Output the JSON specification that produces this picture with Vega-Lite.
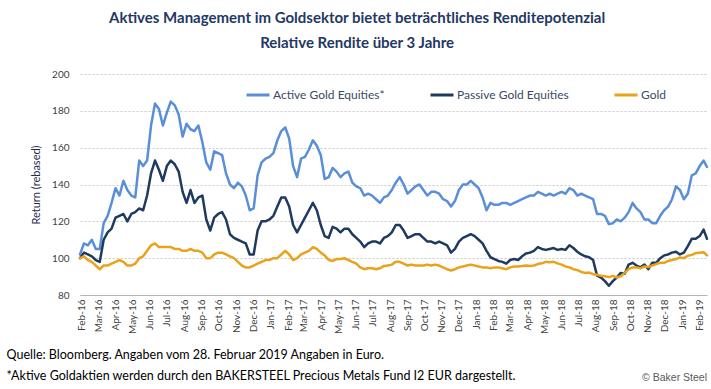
{
"$schema": "https://vega.github.io/schema/vega-lite/v6.json",
"background": "white",
"padding": {"left": 6, "top": 11, "right": 4, "bottom": 0},
"title": {"text": ["Aktives Management im Goldsektor bietet beträchtliches Renditepotenzial", "Relative Rendite über 3 Jahre"], "font": "Lato", "fontSize": 15, "fontWeight": "bold", "color": "#1F3864", "lineHeight": 25, "anchor": "middle", "offset": 18},
"config": {"view": {"stroke": null}, "concat": {"spacing": 0}},
"vconcat": [{
"width": 627, "height": 221,
"title": {"text": "© Baker Steel", "orient": "bottom", "anchor": "end", "frame": "group", "font": "Liberation Sans", "fontSize": 10.5, "fontWeight": "normal", "color": "#595959", "offset": -9},
"data": {"values": [
{"date":"2016-01-29","series":"Active","value":102},{"date":"2016-02-05","series":"Active","value":108},{"date":"2016-02-12","series":"Active","value":107},{"date":"2016-02-19","series":"Active","value":110},{"date":"2016-02-26","series":"Active","value":105},{"date":"2016-03-04","series":"Active","value":105},{"date":"2016-03-11","series":"Active","value":119},{"date":"2016-03-18","series":"Active","value":123},{"date":"2016-03-25","series":"Active","value":130},{"date":"2016-04-01","series":"Active","value":138},
{"date":"2016-04-08","series":"Active","value":134},{"date":"2016-04-15","series":"Active","value":142},{"date":"2016-04-22","series":"Active","value":137},{"date":"2016-04-29","series":"Active","value":134},{"date":"2016-05-06","series":"Active","value":133},{"date":"2016-05-13","series":"Active","value":153},{"date":"2016-05-20","series":"Active","value":150},{"date":"2016-05-27","series":"Active","value":153},{"date":"2016-06-03","series":"Active","value":172},{"date":"2016-06-10","series":"Active","value":184},
{"date":"2016-06-17","series":"Active","value":181},{"date":"2016-06-24","series":"Active","value":172},{"date":"2016-07-01","series":"Active","value":179},{"date":"2016-07-08","series":"Active","value":185},{"date":"2016-07-15","series":"Active","value":183},{"date":"2016-07-22","series":"Active","value":178},{"date":"2016-07-29","series":"Active","value":166},{"date":"2016-08-05","series":"Active","value":173},{"date":"2016-08-12","series":"Active","value":170},{"date":"2016-08-19","series":"Active","value":169},
{"date":"2016-08-26","series":"Active","value":172},{"date":"2016-09-02","series":"Active","value":163},{"date":"2016-09-09","series":"Active","value":152},{"date":"2016-09-16","series":"Active","value":148},{"date":"2016-09-23","series":"Active","value":158},{"date":"2016-09-30","series":"Active","value":157},{"date":"2016-10-07","series":"Active","value":156},{"date":"2016-10-14","series":"Active","value":146},{"date":"2016-10-21","series":"Active","value":140},{"date":"2016-10-28","series":"Active","value":138},
{"date":"2016-11-04","series":"Active","value":141},{"date":"2016-11-11","series":"Active","value":139},{"date":"2016-11-18","series":"Active","value":134},{"date":"2016-11-25","series":"Active","value":126},{"date":"2016-12-02","series":"Active","value":127},{"date":"2016-12-09","series":"Active","value":145},{"date":"2016-12-16","series":"Active","value":152},{"date":"2016-12-23","series":"Active","value":154},{"date":"2016-12-30","series":"Active","value":155},{"date":"2017-01-06","series":"Active","value":157},
{"date":"2017-01-13","series":"Active","value":164},{"date":"2017-01-20","series":"Active","value":169},{"date":"2017-01-27","series":"Active","value":171},{"date":"2017-02-03","series":"Active","value":165},{"date":"2017-02-10","series":"Active","value":150},{"date":"2017-02-17","series":"Active","value":144},{"date":"2017-02-24","series":"Active","value":154},{"date":"2017-03-03","series":"Active","value":155},{"date":"2017-03-10","series":"Active","value":159},{"date":"2017-03-17","series":"Active","value":164},
{"date":"2017-03-24","series":"Active","value":161},{"date":"2017-03-31","series":"Active","value":156},{"date":"2017-04-07","series":"Active","value":143},{"date":"2017-04-14","series":"Active","value":144},{"date":"2017-04-21","series":"Active","value":149},{"date":"2017-04-28","series":"Active","value":147},{"date":"2017-05-05","series":"Active","value":144},{"date":"2017-05-12","series":"Active","value":146},{"date":"2017-05-19","series":"Active","value":147},{"date":"2017-05-26","series":"Active","value":141},
{"date":"2017-06-02","series":"Active","value":139},{"date":"2017-06-09","series":"Active","value":138},{"date":"2017-06-16","series":"Active","value":134},{"date":"2017-06-23","series":"Active","value":135},{"date":"2017-06-30","series":"Active","value":134},{"date":"2017-07-07","series":"Active","value":132},{"date":"2017-07-14","series":"Active","value":130},{"date":"2017-07-21","series":"Active","value":133},{"date":"2017-07-28","series":"Active","value":134},{"date":"2017-08-04","series":"Active","value":137},
{"date":"2017-08-11","series":"Active","value":141},{"date":"2017-08-18","series":"Active","value":144},{"date":"2017-08-25","series":"Active","value":140},{"date":"2017-09-01","series":"Active","value":135},{"date":"2017-09-08","series":"Active","value":137},{"date":"2017-09-15","series":"Active","value":139},{"date":"2017-09-22","series":"Active","value":140},{"date":"2017-09-29","series":"Active","value":137},{"date":"2017-10-06","series":"Active","value":134},{"date":"2017-10-13","series":"Active","value":136},
{"date":"2017-10-20","series":"Active","value":136},{"date":"2017-10-27","series":"Active","value":135},{"date":"2017-11-03","series":"Active","value":132},{"date":"2017-11-10","series":"Active","value":131},{"date":"2017-11-17","series":"Active","value":128},{"date":"2017-11-24","series":"Active","value":131},{"date":"2017-12-01","series":"Active","value":137},{"date":"2017-12-08","series":"Active","value":140},{"date":"2017-12-15","series":"Active","value":140},{"date":"2017-12-22","series":"Active","value":142},
{"date":"2017-12-29","series":"Active","value":140},{"date":"2018-01-05","series":"Active","value":138},{"date":"2018-01-12","series":"Active","value":133},{"date":"2018-01-19","series":"Active","value":126},{"date":"2018-01-26","series":"Active","value":130},{"date":"2018-02-02","series":"Active","value":129},{"date":"2018-02-09","series":"Active","value":129},{"date":"2018-02-16","series":"Active","value":130},{"date":"2018-02-23","series":"Active","value":130},{"date":"2018-03-02","series":"Active","value":129},
{"date":"2018-03-09","series":"Active","value":130},{"date":"2018-03-16","series":"Active","value":131},{"date":"2018-03-23","series":"Active","value":132},{"date":"2018-03-30","series":"Active","value":133},{"date":"2018-04-06","series":"Active","value":134},{"date":"2018-04-13","series":"Active","value":134},{"date":"2018-04-20","series":"Active","value":136},{"date":"2018-04-27","series":"Active","value":135},{"date":"2018-05-04","series":"Active","value":134},{"date":"2018-05-11","series":"Active","value":135},
{"date":"2018-05-18","series":"Active","value":134},{"date":"2018-05-25","series":"Active","value":135},{"date":"2018-06-01","series":"Active","value":136},{"date":"2018-06-08","series":"Active","value":135},{"date":"2018-06-15","series":"Active","value":138},{"date":"2018-06-22","series":"Active","value":137},{"date":"2018-06-29","series":"Active","value":134},{"date":"2018-07-06","series":"Active","value":135},{"date":"2018-07-13","series":"Active","value":134},{"date":"2018-07-20","series":"Active","value":133},
{"date":"2018-07-27","series":"Active","value":132},{"date":"2018-08-03","series":"Active","value":124},{"date":"2018-08-10","series":"Active","value":124},{"date":"2018-08-17","series":"Active","value":123},{"date":"2018-08-24","series":"Active","value":118.5},{"date":"2018-08-31","series":"Active","value":119},{"date":"2018-09-07","series":"Active","value":121},{"date":"2018-09-14","series":"Active","value":120},{"date":"2018-09-21","series":"Active","value":122},{"date":"2018-09-28","series":"Active","value":125},
{"date":"2018-10-05","series":"Active","value":130},{"date":"2018-10-12","series":"Active","value":127},{"date":"2018-10-19","series":"Active","value":125},{"date":"2018-10-26","series":"Active","value":121},{"date":"2018-11-02","series":"Active","value":121},{"date":"2018-11-09","series":"Active","value":119},{"date":"2018-11-16","series":"Active","value":119},{"date":"2018-11-23","series":"Active","value":123},{"date":"2018-11-30","series":"Active","value":126},{"date":"2018-12-07","series":"Active","value":128},
{"date":"2018-12-14","series":"Active","value":132},{"date":"2018-12-21","series":"Active","value":139},{"date":"2018-12-28","series":"Active","value":137},{"date":"2019-01-04","series":"Active","value":132},{"date":"2019-01-11","series":"Active","value":135},{"date":"2019-01-18","series":"Active","value":145},{"date":"2019-01-25","series":"Active","value":146},{"date":"2019-02-01","series":"Active","value":150},{"date":"2019-02-08","series":"Active","value":153},{"date":"2019-02-14","series":"Active","value":149.5},

{"date":"2016-01-29","series":"Passive","value":100},{"date":"2016-02-05","series":"Passive","value":103},{"date":"2016-02-12","series":"Passive","value":102},{"date":"2016-02-19","series":"Passive","value":101},{"date":"2016-02-26","series":"Passive","value":99},{"date":"2016-03-04","series":"Passive","value":98},{"date":"2016-03-11","series":"Passive","value":110},{"date":"2016-03-18","series":"Passive","value":114},{"date":"2016-03-25","series":"Passive","value":116},{"date":"2016-04-01","series":"Passive","value":122},
{"date":"2016-04-08","series":"Passive","value":123},{"date":"2016-04-15","series":"Passive","value":124},{"date":"2016-04-22","series":"Passive","value":120},{"date":"2016-04-29","series":"Passive","value":124},{"date":"2016-05-06","series":"Passive","value":125},{"date":"2016-05-13","series":"Passive","value":127},{"date":"2016-05-20","series":"Passive","value":126},{"date":"2016-05-27","series":"Passive","value":134},{"date":"2016-06-03","series":"Passive","value":146},{"date":"2016-06-10","series":"Passive","value":153},
{"date":"2016-06-17","series":"Passive","value":148},{"date":"2016-06-24","series":"Passive","value":142},{"date":"2016-07-01","series":"Passive","value":150},{"date":"2016-07-08","series":"Passive","value":153},{"date":"2016-07-15","series":"Passive","value":151},{"date":"2016-07-22","series":"Passive","value":147},{"date":"2016-07-29","series":"Passive","value":136},{"date":"2016-08-05","series":"Passive","value":130},{"date":"2016-08-12","series":"Passive","value":137},{"date":"2016-08-19","series":"Passive","value":130},
{"date":"2016-08-26","series":"Passive","value":133},{"date":"2016-09-02","series":"Passive","value":134},{"date":"2016-09-09","series":"Passive","value":121},{"date":"2016-09-16","series":"Passive","value":115},{"date":"2016-09-23","series":"Passive","value":122},{"date":"2016-09-30","series":"Passive","value":124},{"date":"2016-10-07","series":"Passive","value":125},{"date":"2016-10-14","series":"Passive","value":121},{"date":"2016-10-21","series":"Passive","value":113},{"date":"2016-10-28","series":"Passive","value":111},
{"date":"2016-11-04","series":"Passive","value":110},{"date":"2016-11-11","series":"Passive","value":109},{"date":"2016-11-18","series":"Passive","value":108},{"date":"2016-11-25","series":"Passive","value":102},{"date":"2016-12-02","series":"Passive","value":102},{"date":"2016-12-09","series":"Passive","value":115},{"date":"2016-12-16","series":"Passive","value":120},{"date":"2016-12-23","series":"Passive","value":120},{"date":"2016-12-30","series":"Passive","value":121},{"date":"2017-01-06","series":"Passive","value":123},
{"date":"2017-01-13","series":"Passive","value":128},{"date":"2017-01-20","series":"Passive","value":133},{"date":"2017-01-27","series":"Passive","value":133},{"date":"2017-02-03","series":"Passive","value":128},{"date":"2017-02-10","series":"Passive","value":118},{"date":"2017-02-17","series":"Passive","value":114},{"date":"2017-02-24","series":"Passive","value":118},{"date":"2017-03-03","series":"Passive","value":122},{"date":"2017-03-10","series":"Passive","value":126},{"date":"2017-03-17","series":"Passive","value":130},
{"date":"2017-03-24","series":"Passive","value":126},{"date":"2017-03-31","series":"Passive","value":118},{"date":"2017-04-07","series":"Passive","value":112},{"date":"2017-04-14","series":"Passive","value":111},{"date":"2017-04-21","series":"Passive","value":117},{"date":"2017-04-28","series":"Passive","value":116},{"date":"2017-05-05","series":"Passive","value":114},{"date":"2017-05-12","series":"Passive","value":116},{"date":"2017-05-19","series":"Passive","value":116},{"date":"2017-05-26","series":"Passive","value":113},
{"date":"2017-06-02","series":"Passive","value":111},{"date":"2017-06-09","series":"Passive","value":109},{"date":"2017-06-16","series":"Passive","value":106},{"date":"2017-06-23","series":"Passive","value":108},{"date":"2017-06-30","series":"Passive","value":109},{"date":"2017-07-07","series":"Passive","value":109},{"date":"2017-07-14","series":"Passive","value":108},{"date":"2017-07-21","series":"Passive","value":111},{"date":"2017-07-28","series":"Passive","value":112},{"date":"2017-08-04","series":"Passive","value":114},
{"date":"2017-08-11","series":"Passive","value":118},{"date":"2017-08-18","series":"Passive","value":118},{"date":"2017-08-25","series":"Passive","value":115},{"date":"2017-09-01","series":"Passive","value":111},{"date":"2017-09-08","series":"Passive","value":112},{"date":"2017-09-15","series":"Passive","value":113},{"date":"2017-09-22","series":"Passive","value":113},{"date":"2017-09-29","series":"Passive","value":111},{"date":"2017-10-06","series":"Passive","value":109},{"date":"2017-10-13","series":"Passive","value":109},
{"date":"2017-10-20","series":"Passive","value":108},{"date":"2017-10-27","series":"Passive","value":109},{"date":"2017-11-03","series":"Passive","value":108},{"date":"2017-11-10","series":"Passive","value":107},{"date":"2017-11-17","series":"Passive","value":103},{"date":"2017-11-24","series":"Passive","value":105},{"date":"2017-12-01","series":"Passive","value":109},{"date":"2017-12-08","series":"Passive","value":111},{"date":"2017-12-15","series":"Passive","value":112},{"date":"2017-12-22","series":"Passive","value":113},
{"date":"2017-12-29","series":"Passive","value":112},{"date":"2018-01-05","series":"Passive","value":110},{"date":"2018-01-12","series":"Passive","value":108},{"date":"2018-01-19","series":"Passive","value":104},{"date":"2018-01-26","series":"Passive","value":100.5},{"date":"2018-02-02","series":"Passive","value":99.5},{"date":"2018-02-09","series":"Passive","value":98.5},{"date":"2018-02-16","series":"Passive","value":98},{"date":"2018-02-23","series":"Passive","value":97},{"date":"2018-03-02","series":"Passive","value":99},
{"date":"2018-03-09","series":"Passive","value":99.5},{"date":"2018-03-16","series":"Passive","value":99},{"date":"2018-03-23","series":"Passive","value":101},{"date":"2018-03-30","series":"Passive","value":102.5},{"date":"2018-04-06","series":"Passive","value":103},{"date":"2018-04-13","series":"Passive","value":104},{"date":"2018-04-20","series":"Passive","value":106},{"date":"2018-04-27","series":"Passive","value":105},{"date":"2018-05-04","series":"Passive","value":104.5},{"date":"2018-05-11","series":"Passive","value":105},
{"date":"2018-05-18","series":"Passive","value":105.5},{"date":"2018-05-25","series":"Passive","value":104.5},{"date":"2018-06-01","series":"Passive","value":105},{"date":"2018-06-08","series":"Passive","value":104.5},{"date":"2018-06-15","series":"Passive","value":107},{"date":"2018-06-22","series":"Passive","value":105.5},{"date":"2018-06-29","series":"Passive","value":103.5},{"date":"2018-07-06","series":"Passive","value":102},{"date":"2018-07-13","series":"Passive","value":101},{"date":"2018-07-20","series":"Passive","value":100.5},
{"date":"2018-07-27","series":"Passive","value":99},{"date":"2018-08-03","series":"Passive","value":90.5},{"date":"2018-08-10","series":"Passive","value":89.5},{"date":"2018-08-17","series":"Passive","value":87.5},{"date":"2018-08-24","series":"Passive","value":85},{"date":"2018-08-31","series":"Passive","value":87.5},{"date":"2018-09-07","series":"Passive","value":89.5},{"date":"2018-09-14","series":"Passive","value":92},{"date":"2018-09-21","series":"Passive","value":91.5},{"date":"2018-09-28","series":"Passive","value":96.5},
{"date":"2018-10-05","series":"Passive","value":97.5},{"date":"2018-10-12","series":"Passive","value":96},{"date":"2018-10-19","series":"Passive","value":95},{"date":"2018-10-26","series":"Passive","value":96.5},{"date":"2018-11-02","series":"Passive","value":94},{"date":"2018-11-09","series":"Passive","value":97.5},{"date":"2018-11-16","series":"Passive","value":97.5},{"date":"2018-11-23","series":"Passive","value":100},{"date":"2018-11-30","series":"Passive","value":101.5},{"date":"2018-12-07","series":"Passive","value":102},
{"date":"2018-12-14","series":"Passive","value":103},{"date":"2018-12-21","series":"Passive","value":103.5},{"date":"2018-12-28","series":"Passive","value":102},{"date":"2019-01-04","series":"Passive","value":103},{"date":"2019-01-11","series":"Passive","value":106.5},{"date":"2019-01-18","series":"Passive","value":110.5},{"date":"2019-01-25","series":"Passive","value":110.5},{"date":"2019-02-01","series":"Passive","value":112},{"date":"2019-02-08","series":"Passive","value":115.5},{"date":"2019-02-14","series":"Passive","value":110.5},

{"date":"2016-01-29","series":"Gold","value":100},{"date":"2016-02-05","series":"Gold","value":101},{"date":"2016-02-12","series":"Gold","value":99},{"date":"2016-02-19","series":"Gold","value":98},{"date":"2016-02-26","series":"Gold","value":96},{"date":"2016-03-04","series":"Gold","value":94},{"date":"2016-03-11","series":"Gold","value":96},{"date":"2016-03-18","series":"Gold","value":96},{"date":"2016-03-25","series":"Gold","value":97},{"date":"2016-04-01","series":"Gold","value":98},
{"date":"2016-04-08","series":"Gold","value":99},{"date":"2016-04-15","series":"Gold","value":98},{"date":"2016-04-22","series":"Gold","value":96},{"date":"2016-04-29","series":"Gold","value":96},{"date":"2016-05-06","series":"Gold","value":97},{"date":"2016-05-13","series":"Gold","value":100},{"date":"2016-05-20","series":"Gold","value":101},{"date":"2016-05-27","series":"Gold","value":104},{"date":"2016-06-03","series":"Gold","value":107},{"date":"2016-06-10","series":"Gold","value":108},
{"date":"2016-06-17","series":"Gold","value":106},{"date":"2016-06-24","series":"Gold","value":106},{"date":"2016-07-01","series":"Gold","value":106},{"date":"2016-07-08","series":"Gold","value":106},{"date":"2016-07-15","series":"Gold","value":105},{"date":"2016-07-22","series":"Gold","value":105},{"date":"2016-07-29","series":"Gold","value":104},{"date":"2016-08-05","series":"Gold","value":104},{"date":"2016-08-12","series":"Gold","value":105},{"date":"2016-08-19","series":"Gold","value":104},
{"date":"2016-08-26","series":"Gold","value":104},{"date":"2016-09-02","series":"Gold","value":103},{"date":"2016-09-09","series":"Gold","value":100},{"date":"2016-09-16","series":"Gold","value":100},{"date":"2016-09-23","series":"Gold","value":102},{"date":"2016-09-30","series":"Gold","value":103},{"date":"2016-10-07","series":"Gold","value":103},{"date":"2016-10-14","series":"Gold","value":102},{"date":"2016-10-21","series":"Gold","value":101},{"date":"2016-10-28","series":"Gold","value":100},
{"date":"2016-11-04","series":"Gold","value":98},{"date":"2016-11-11","series":"Gold","value":96},{"date":"2016-11-18","series":"Gold","value":95},{"date":"2016-11-25","series":"Gold","value":95},{"date":"2016-12-02","series":"Gold","value":96},{"date":"2016-12-09","series":"Gold","value":97},{"date":"2016-12-16","series":"Gold","value":98},{"date":"2016-12-23","series":"Gold","value":99},{"date":"2016-12-30","series":"Gold","value":99},{"date":"2017-01-06","series":"Gold","value":100},
{"date":"2017-01-13","series":"Gold","value":100},{"date":"2017-01-20","series":"Gold","value":102},{"date":"2017-01-27","series":"Gold","value":104},{"date":"2017-02-03","series":"Gold","value":102},{"date":"2017-02-10","series":"Gold","value":99},{"date":"2017-02-17","series":"Gold","value":100},{"date":"2017-02-24","series":"Gold","value":102},{"date":"2017-03-03","series":"Gold","value":103},{"date":"2017-03-10","series":"Gold","value":104},{"date":"2017-03-17","series":"Gold","value":106},
{"date":"2017-03-24","series":"Gold","value":105},{"date":"2017-03-31","series":"Gold","value":103},{"date":"2017-04-07","series":"Gold","value":101.5},{"date":"2017-04-14","series":"Gold","value":99},{"date":"2017-04-21","series":"Gold","value":98.5},{"date":"2017-04-28","series":"Gold","value":99.5},{"date":"2017-05-05","series":"Gold","value":99.5},{"date":"2017-05-12","series":"Gold","value":100},{"date":"2017-05-19","series":"Gold","value":99},{"date":"2017-05-26","series":"Gold","value":98},
{"date":"2017-06-02","series":"Gold","value":97},{"date":"2017-06-09","series":"Gold","value":95},{"date":"2017-06-16","series":"Gold","value":94},{"date":"2017-06-23","series":"Gold","value":94.5},{"date":"2017-06-30","series":"Gold","value":94.5},{"date":"2017-07-07","series":"Gold","value":94},{"date":"2017-07-14","series":"Gold","value":94.5},{"date":"2017-07-21","series":"Gold","value":95.8},{"date":"2017-07-28","series":"Gold","value":96},{"date":"2017-08-04","series":"Gold","value":96.5},
{"date":"2017-08-11","series":"Gold","value":98},{"date":"2017-08-18","series":"Gold","value":98},{"date":"2017-08-25","series":"Gold","value":97},{"date":"2017-09-01","series":"Gold","value":96},{"date":"2017-09-08","series":"Gold","value":96.5},{"date":"2017-09-15","series":"Gold","value":96},{"date":"2017-09-22","series":"Gold","value":96},{"date":"2017-09-29","series":"Gold","value":96},{"date":"2017-10-06","series":"Gold","value":96.5},{"date":"2017-10-13","series":"Gold","value":96},
{"date":"2017-10-20","series":"Gold","value":96.5},{"date":"2017-10-27","series":"Gold","value":96},{"date":"2017-11-03","series":"Gold","value":95},{"date":"2017-11-10","series":"Gold","value":94},{"date":"2017-11-17","series":"Gold","value":93.3},{"date":"2017-11-24","series":"Gold","value":94},{"date":"2017-12-01","series":"Gold","value":95},{"date":"2017-12-08","series":"Gold","value":95.5},{"date":"2017-12-15","series":"Gold","value":96},{"date":"2017-12-22","series":"Gold","value":96.5},
{"date":"2017-12-29","series":"Gold","value":96},{"date":"2018-01-05","series":"Gold","value":95.5},{"date":"2018-01-12","series":"Gold","value":95},{"date":"2018-01-19","series":"Gold","value":95},{"date":"2018-01-26","series":"Gold","value":94.5},{"date":"2018-02-02","series":"Gold","value":95},{"date":"2018-02-09","series":"Gold","value":95},{"date":"2018-02-16","series":"Gold","value":94.5},{"date":"2018-02-23","series":"Gold","value":94},{"date":"2018-03-02","series":"Gold","value":95},
{"date":"2018-03-09","series":"Gold","value":95.5},{"date":"2018-03-16","series":"Gold","value":95.5},{"date":"2018-03-23","series":"Gold","value":95.7},{"date":"2018-03-30","series":"Gold","value":96},{"date":"2018-04-06","series":"Gold","value":95.7},{"date":"2018-04-13","series":"Gold","value":96},{"date":"2018-04-20","series":"Gold","value":96.8},{"date":"2018-04-27","series":"Gold","value":97.2},{"date":"2018-05-04","series":"Gold","value":98},{"date":"2018-05-11","series":"Gold","value":97.8},
{"date":"2018-05-18","series":"Gold","value":98},{"date":"2018-05-25","series":"Gold","value":97.2},{"date":"2018-06-01","series":"Gold","value":96.5},{"date":"2018-06-08","series":"Gold","value":95.5},{"date":"2018-06-15","series":"Gold","value":95},{"date":"2018-06-22","series":"Gold","value":94},{"date":"2018-06-29","series":"Gold","value":93.5},{"date":"2018-07-06","series":"Gold","value":92.5},{"date":"2018-07-13","series":"Gold","value":92},{"date":"2018-07-20","series":"Gold","value":92.2},
{"date":"2018-07-27","series":"Gold","value":91.3},{"date":"2018-08-03","series":"Gold","value":91},{"date":"2018-08-10","series":"Gold","value":90.4},{"date":"2018-08-17","series":"Gold","value":90.2},{"date":"2018-08-24","series":"Gold","value":89.7},{"date":"2018-08-31","series":"Gold","value":90.4},{"date":"2018-09-07","series":"Gold","value":89.5},{"date":"2018-09-14","series":"Gold","value":90.2},{"date":"2018-09-21","series":"Gold","value":92},{"date":"2018-09-28","series":"Gold","value":94},
{"date":"2018-10-05","series":"Gold","value":95},{"date":"2018-10-12","series":"Gold","value":95},{"date":"2018-10-19","series":"Gold","value":94.5},{"date":"2018-10-26","series":"Gold","value":95.5},{"date":"2018-11-02","series":"Gold","value":95.2},{"date":"2018-11-09","series":"Gold","value":96},{"date":"2018-11-16","series":"Gold","value":96.8},{"date":"2018-11-23","series":"Gold","value":97.5},{"date":"2018-11-30","series":"Gold","value":97.5},{"date":"2018-12-07","series":"Gold","value":98.5},
{"date":"2018-12-14","series":"Gold","value":99},{"date":"2018-12-21","series":"Gold","value":99.5},{"date":"2018-12-28","series":"Gold","value":100.4},{"date":"2019-01-04","series":"Gold","value":100},{"date":"2019-01-11","series":"Gold","value":101.3},{"date":"2019-01-18","series":"Gold","value":101.8},{"date":"2019-01-25","series":"Gold","value":102.8},{"date":"2019-02-01","series":"Gold","value":103},{"date":"2019-02-08","series":"Gold","value":103.2},{"date":"2019-02-14","series":"Gold","value":101.5}
]},
"mark": {"type": "line", "strokeWidth": 2.5, "strokeJoin": "round", "strokeCap": "round"},
"encoding": {
"x": {"field": "date", "type": "temporal",
  "scale": {"domain": [{"year": 2016, "month": 1, "date": 29}, {"year": 2019, "month": 2, "date": 14}], "nice": false},
  "axis": {"format": "%b-%y", "tickCount": {"interval": "month", "step": 1}, "labelAngle": -90, "labelAlign": "right", "labelBaseline": "middle", "labelFont": "Lato", "labelFontSize": 10, "labelColor": "#404040", "labelPadding": 4, "labelOverlap": false, "labelFlush": false, "ticks": false, "grid": false, "domainColor": "#B4B4B4", "domainWidth": 1.2,
    "title": ["Quelle: Bloomberg. Angaben vom 28. Februar 2019  Angaben in Euro.", "*Aktive Goldaktien werden durch den BAKERSTEEL Precious Metals Fund I2 EUR dargestellt."],
    "titleFont": "Lato", "titleFontSize": 12.5, "titleFontWeight": "normal", "titleColor": "#000000", "titleAnchor": "start", "titleAlign": "left", "titleX": -74, "titleY": 53, "titleBaseline": "top", "titleLineHeight": 21.5}},
"y": {"field": "value", "type": "quantitative",
  "scale": {"domain": [80, 200], "nice": false, "zero": false},
  "axis": {"values": [80, 100, 120, 140, 160, 180, 200], "title": "Return (rebased)", "titleFont": "Lato", "titleFontSize": 11, "titleFontWeight": "normal", "titleColor": "#1F2D4D", "titlePadding": 10, "labelFont": "Lato", "labelFontSize": 10, "labelColor": "#404040", "labelPadding": 11, "ticks": false, "domain": false, "grid": true, "gridColor": "#C8C8C8", "gridDash": [2, 2], "gridWidth": 1}},
"color": {"field": "series", "type": "nominal",
  "scale": {"domain": ["Active", "Passive", "Gold"], "range": ["#5A8FD8", "#1F3A60", "#E9A21B"]},
  "legend": {"orient": "none", "legendX": 165, "legendY": 8, "direction": "horizontal", "columns": 3, "columnPadding": 39, "title": null, "symbolType": "stroke", "symbolSize": 529, "symbolStrokeWidth": 3, "labelFont": "Lato", "labelFontSize": 12, "labelColor": "#3B4A66", "labelOffset": 2, "padding": 0,
    "labelExpr": "datum.label == 'Active' ? 'Active Gold Equities*' : datum.label == 'Passive' ? 'Passive Gold Equities' : 'Gold'"}}
}
}]
}
